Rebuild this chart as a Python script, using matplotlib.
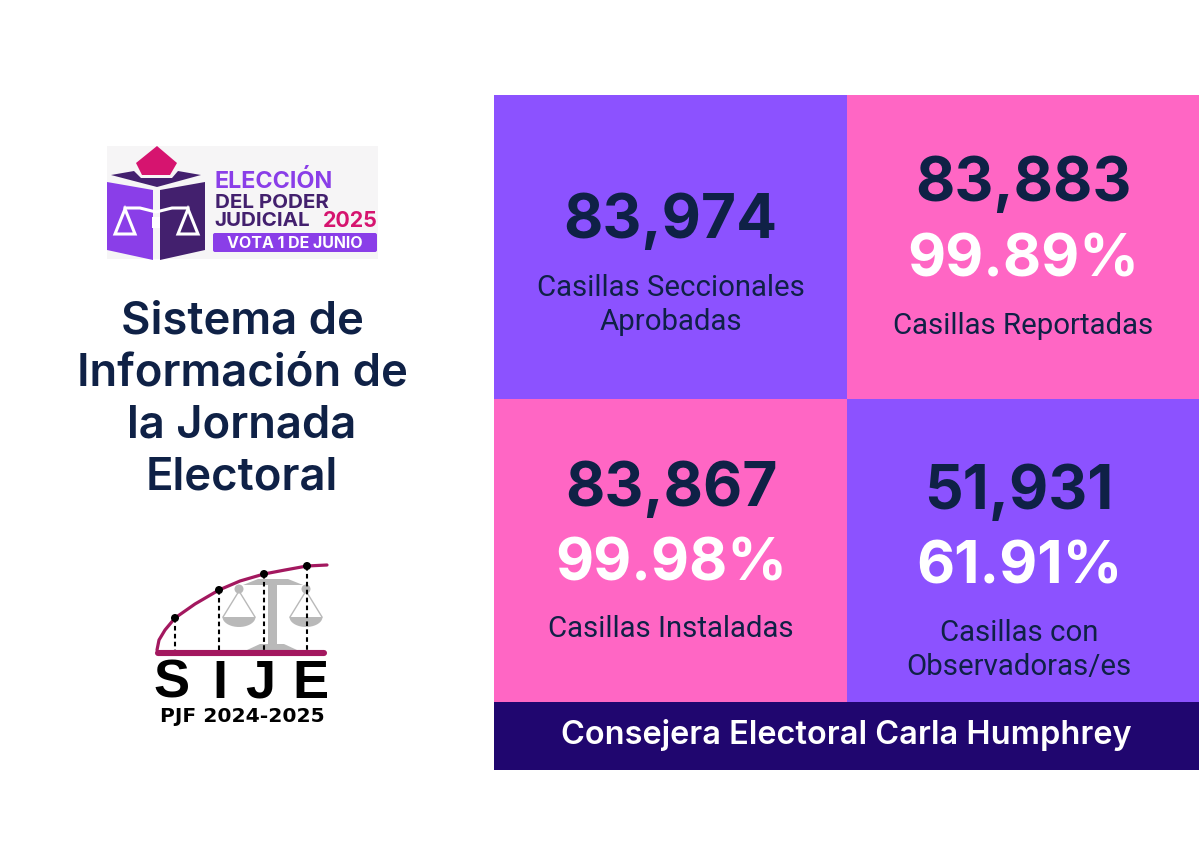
import numpy as np
import matplotlib
matplotlib.use("Agg")
import matplotlib.pyplot as plt
from matplotlib.patches import Rectangle, Polygon, Circle, FancyBboxPatch

# values
cards_main = ["83,974", "83,883", "83,867", "51,931"]
cards_pct = [None, "99.89%", "99.98%", "61.91%"]
cards_label = ["Casillas Seccionales\nAprobadas", "Casillas Reportadas",
               "Casillas Instaladas", "Casillas con\nObservadoras/es"]
title_lines = ["Sistema de", "Información de", "la Jornada", "Electoral"]
footer = "Consejera Electoral Carla Humphrey"

PURPLE = "#8c52ff"
PINK = "#ff66c4"
NAVY = "#0f2146"
DARKBAR = "#20066f"
FONT = "Inter"
LABELFONT = "Roboto"

fig = plt.figure(figsize=(11.99, 8.48), dpi=100)
ax = fig.add_axes([0, 0, 1, 1])
ax.set_xlim(0, 1199)
ax.set_ylim(848, 0)
ax.axis("off")

# card grid
x_edges = [494, 847, 1199]
y_edges = [95, 399, 702]
colors = [PURPLE, PINK, PINK, PURPLE]
centers = [670.5, 1023, 671, 1019]
main_y = [222, 185, 490, 493]
pct_y = [None, 261, 565, 568]
label_y = [305, 326, 629, 650]
for i in range(4):
    col = i % 2
    row = i // 2
    ax.add_patch(Rectangle((x_edges[col], y_edges[row]), x_edges[col+1]-x_edges[col],
                           y_edges[row+1]-y_edges[row], color=colors[i], lw=0))
    cx = centers[i]
    ax.text(cx, main_y[i], cards_main[i], color=NAVY, fontsize=43.6, fontweight="bold",
            family=FONT, ha="center", va="center")
    if cards_pct[i]:
        ax.text(cx, pct_y[i], cards_pct[i], color="white", fontsize=42.3, fontweight="bold",
                family=FONT, ha="center", va="center")
    ax.text(cx, label_y[i], cards_label[i], color=NAVY, fontsize=21.2, family=LABELFONT,
            ha="center", va="center", linespacing=1.25)

ax.add_patch(Rectangle((494, 702), 705, 68, color=DARKBAR, lw=0))
ax.text(846.5, 735, footer, color="white", fontsize=23.4, fontweight="semibold", family=FONT,
        ha="center", va="center")

# left title
for line, y in zip(title_lines, [321, 373, 426, 478]):
    ax.text(242, y, line, color=NAVY, fontsize=32.7, fontweight="semibold", family=FONT,
            ha="center", va="center")

# election logo
ax.add_patch(Rectangle((107, 146), 271, 113, color="#f6f5f6", lw=0))
ax.add_patch(Polygon([(157, 146), (177, 163), (170, 175), (142, 175), (136, 163)], color="#d6146f", lw=0))
ax.add_patch(Polygon([(111, 175), (134, 171), (141, 178), (172, 178), (178, 171), (201, 175),
                      (157, 187)], color="#43206e", lw=0))
ax.add_patch(Polygon([(107, 182), (153, 190), (153, 260), (107, 250)], color="#8a3ee8", lw=0))
ax.add_patch(Polygon([(160, 190), (205, 182), (205, 250), (160, 260)], color="#43206e", lw=0))
for bx in [125, 188]:
    ax.add_patch(Polygon([(bx, 209), (bx-10, 234), (bx+10, 234)], fill=False, ec="white", lw=2.2))
ax.plot([125, 140, 156, 172, 188], [208, 208, 212, 208, 208], color="white", lw=2.2)
ax.add_patch(Rectangle((152, 217), 8, 11, color="white", lw=0))
logo_font = "Inter"
ax.text(215, 181, "ELECCIÓN", color="#8a3ee8", fontsize=16.8, fontweight="bold", family=logo_font, va="center")
ax.text(215, 203, "DEL PODER", color="#43206e", fontsize=14.8, fontweight="bold", family=logo_font, va="center")
ax.text(214, 221, "JUDICIAL", color="#43206e", fontsize=14.8, fontweight="bold", family=logo_font, va="center")
ax.text(323, 221, "2025", color="#d6146f", fontsize=15.4, fontweight="bold", family=logo_font, va="center")
ax.add_patch(FancyBboxPatch((213, 233), 164, 19, boxstyle="round,pad=0,rounding_size=2", color="#8a3ee8", lw=0))
ax.text(295, 243, "VOTA 1 DE JUNIO", color="white", fontsize=11.5, fontweight="bold", family=logo_font,
        ha="center", va="center")

# SIJE logo
GREY = "#b9b9b9"
MAROON = "#a3185f"
ax.add_patch(Rectangle((268, 582), 9, 68, color=GREY, lw=0))
ax.add_patch(Polygon([(243, 585), (258, 579), (288, 579), (303, 585)], color=GREY, lw=0))
ax.add_patch(Polygon([(247, 650), (260, 644), (284, 644), (297, 650)], color=GREY, lw=0))
for bx in [239, 306]:
    ax.add_patch(Circle((bx, 589), 4.5, color=GREY, lw=0))
    ax.plot([bx-16, bx, bx+16], [617, 591, 617], color=GREY, lw=1)
    t = np.linspace(0, np.pi, 20)
    ax.fill(bx + 16.5*np.cos(t), 617 + 10*np.sin(t), color=GREY, lw=0)
arc_x = np.array([157, 159, 165, 175, 195, 219, 240, 264, 285, 307, 327])
arc_y = np.array([650, 640, 630, 618, 604, 590, 581, 574, 570, 566, 565])
ax.plot(arc_x, arc_y, color=MAROON, lw=2.3, solid_capstyle="round")
ax.plot([158, 324], [653, 653], color=MAROON, lw=4.4, solid_capstyle="round")
for px, py in zip([175, 219, 264, 307], [618, 590, 574, 566]):
    ax.plot([px, px], [py, 650], color="black", lw=1.5, ls=(0, (2.2, 1.6)))
    ax.add_patch(Circle((px, py), 4, color="black", lw=0, zorder=5))
for ch, x in zip("SIJE", [172, 220, 260, 310]):
    ax.text(x, 684, ch, color="black", fontsize=39, fontweight="bold", family="Liberation Sans",
            ha="center", va="center")
ax.text(242.5, 717, "PJF 2024-2025", color="black", fontsize=14.6, fontweight="bold", family="DejaVu Sans",
        ha="center", va="center")

fig.savefig("out.png", dpi=100)
